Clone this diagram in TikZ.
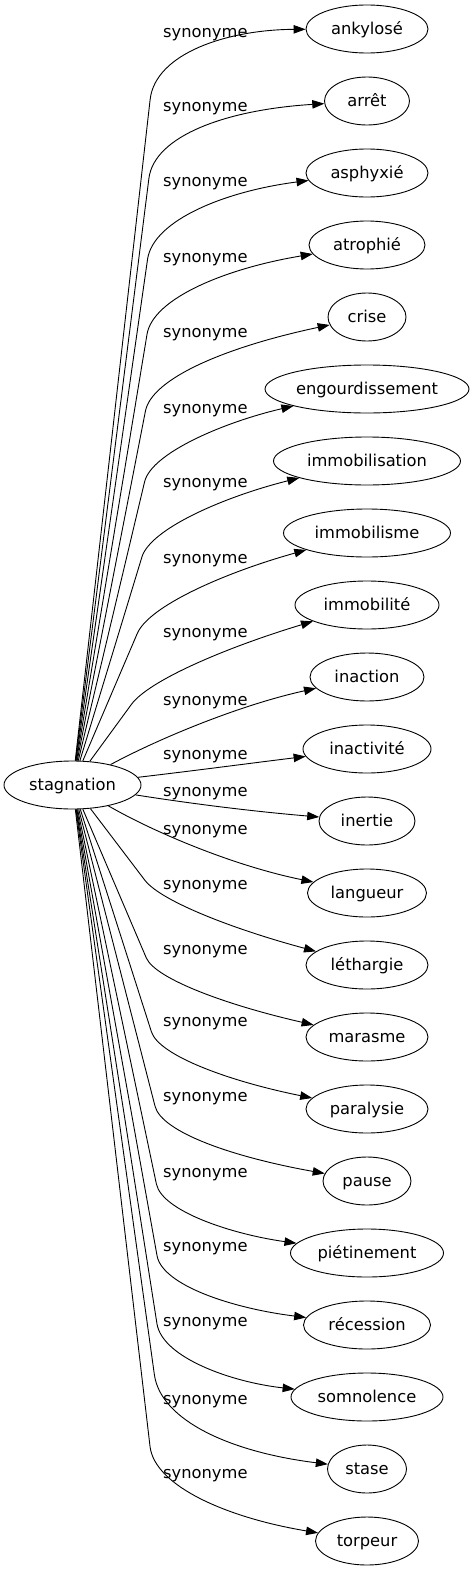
\documentclass[tikz,border=0pt]{standalone}
\usepackage{fontspec}
\setmainfont{DejaVu Sans}
\usetikzlibrary{shapes.geometric,arrows.meta,calc}
\newcommand\bentedge[4]{%
  \path ($(#2,#3)!#4pt!(s.center)$) coordinate (ba);
  \draw[edge] (s) -- (ba) .. controls ($(ba)!0.6667!(#2,#3)$) and ($(#1.center)!0.6667!(#2,#3)$) .. (#1);
}
\begin{document}
\begin{tikzpicture}[x=1pt,y=-1pt,
  every node/.style={font=\fontsize{16.3}{19}\selectfont},
  term/.style={ellipse, draw, line width=0.9pt, minimum height=48pt, inner sep=0pt, text height=13pt, text depth=2pt},
  lab/.style={anchor=base west, inner sep=0pt},
  edge/.style={line width=0.9pt, -{Triangle[length=12pt,width=8.5pt]}}]
\useasboundingbox (0,0) rectangle (475,1571);
\node[term, minimum width=137pt] (s) at (72.5,785) {stagnation};
\node[term, minimum width=122pt] (n0) at (367,29) {ankylosé};
\node[term, minimum width=85pt] (n1) at (367,101) {arrêt};
\node[term, minimum width=122pt] (n2) at (367,173) {asphyxié};
\node[term, minimum width=116pt] (n3) at (367,245) {atrophié};
\node[term, minimum width=78pt] (n4) at (367,317) {crise};
\node[term, minimum width=204pt] (n5) at (367,389) {engourdissement};
\node[term, minimum width=187pt] (n6) at (367,461) {immobilisation};
\node[term, minimum width=167pt] (n7) at (367,533) {immobilisme};
\node[term, minimum width=144pt] (n8) at (367,605) {immobilité};
\node[term, minimum width=114pt] (n9) at (367,677) {inaction};
\node[term, minimum width=128pt] (n10) at (367,749) {inactivité};
\node[term, minimum width=96pt] (n11) at (367,821) {inertie};
\node[term, minimum width=119pt] (n12) at (367,893) {langueur};
\node[term, minimum width=122pt] (n13) at (367,965) {léthargie};
\node[term, minimum width=122pt] (n14) at (367,1037) {marasme};
\node[term, minimum width=122pt] (n15) at (367,1109) {paralysie};
\node[term, minimum width=88pt] (n16) at (367,1181) {pause};
\node[term, minimum width=153pt] (n17) at (367,1253) {piétinement};
\node[term, minimum width=127pt] (n18) at (367,1325) {récession};
\node[term, minimum width=152pt] (n19) at (367,1397) {somnolence};
\node[term, minimum width=79pt] (n20) at (367,1469) {stase};
\node[term, minimum width=103pt] (n21) at (367,1541) {torpeur};
% labels
\node[lab] (l0) at (163,37.5) {synonyme};
\node[lab] (l1) at (163,111) {synonyme};
\node[lab] (l2) at (163,186) {synonyme};
\node[lab] (l3) at (163,262) {synonyme};
\node[lab] (l4) at (163,337) {synonyme};
\node[lab] (l5) at (163,413) {synonyme};
\node[lab] (l6) at (163,487) {synonyme};
\node[lab] (l7) at (163,563) {synonyme};
\node[lab] (l8) at (163,637) {synonyme};
\node[lab] (l9) at (163,705) {synonyme};
\node[lab] (l10) at (163,759) {synonyme};
\node[lab] (l11) at (163,796.5) {synonyme};
\node[lab] (l12) at (163,834) {synonyme};
\node[lab] (l13) at (163,889) {synonyme};
\node[lab] (l14) at (163,954) {synonyme};
\node[lab] (l15) at (163,1026.5) {synonyme};
\node[lab] (l16) at (163,1101) {synonyme};
\node[lab] (l17) at (163,1177) {synonyme};
\node[lab] (l18) at (163,1251) {synonyme};
\node[lab] (l19) at (163,1326) {synonyme};
\node[lab] (l20) at (163,1404) {synonyme};
\node[lab] (l21) at (163,1478) {synonyme};
% edges
\bentedge{n0}{158}{30}{70}
\bentedge{n1}{157}{114}{65}
\bentedge{n2}{156}{200}{60}
\bentedge{n3}{156}{280}{55}
\bentedge{n4}{155}{362}{50}
\bentedge{n5}{155}{438}{45}
\bentedge{n6}{155}{514}{45}
\bentedge{n7}{155}{592}{45}
\bentedge{n8}{158}{668}{45}
\draw[edge] (s) .. controls (160,738) and (240,705) .. (n9);
\draw[edge] (s) .. controls (200,770) and (260,762) .. (n10);
\draw[edge] (s) .. controls (200,805) and (260,812) .. (n11);
\draw[edge] (s) .. controls (150,830) and (230,865) .. (n12);
\bentedge{n13}{169}{912}{40}
\bentedge{n14}{160}{990}{35}
\bentedge{n15}{163}{1068}{38}
\bentedge{n16}{165}{1145}{40}
\bentedge{n17}{165}{1225}{42}
\bentedge{n18}{165}{1300}{45}
\bentedge{n19}{165}{1375}{52}
\bentedge{n20}{164}{1444}{70}
\bentedge{n21}{157}{1506}{60}
\end{tikzpicture}
\end{document}
